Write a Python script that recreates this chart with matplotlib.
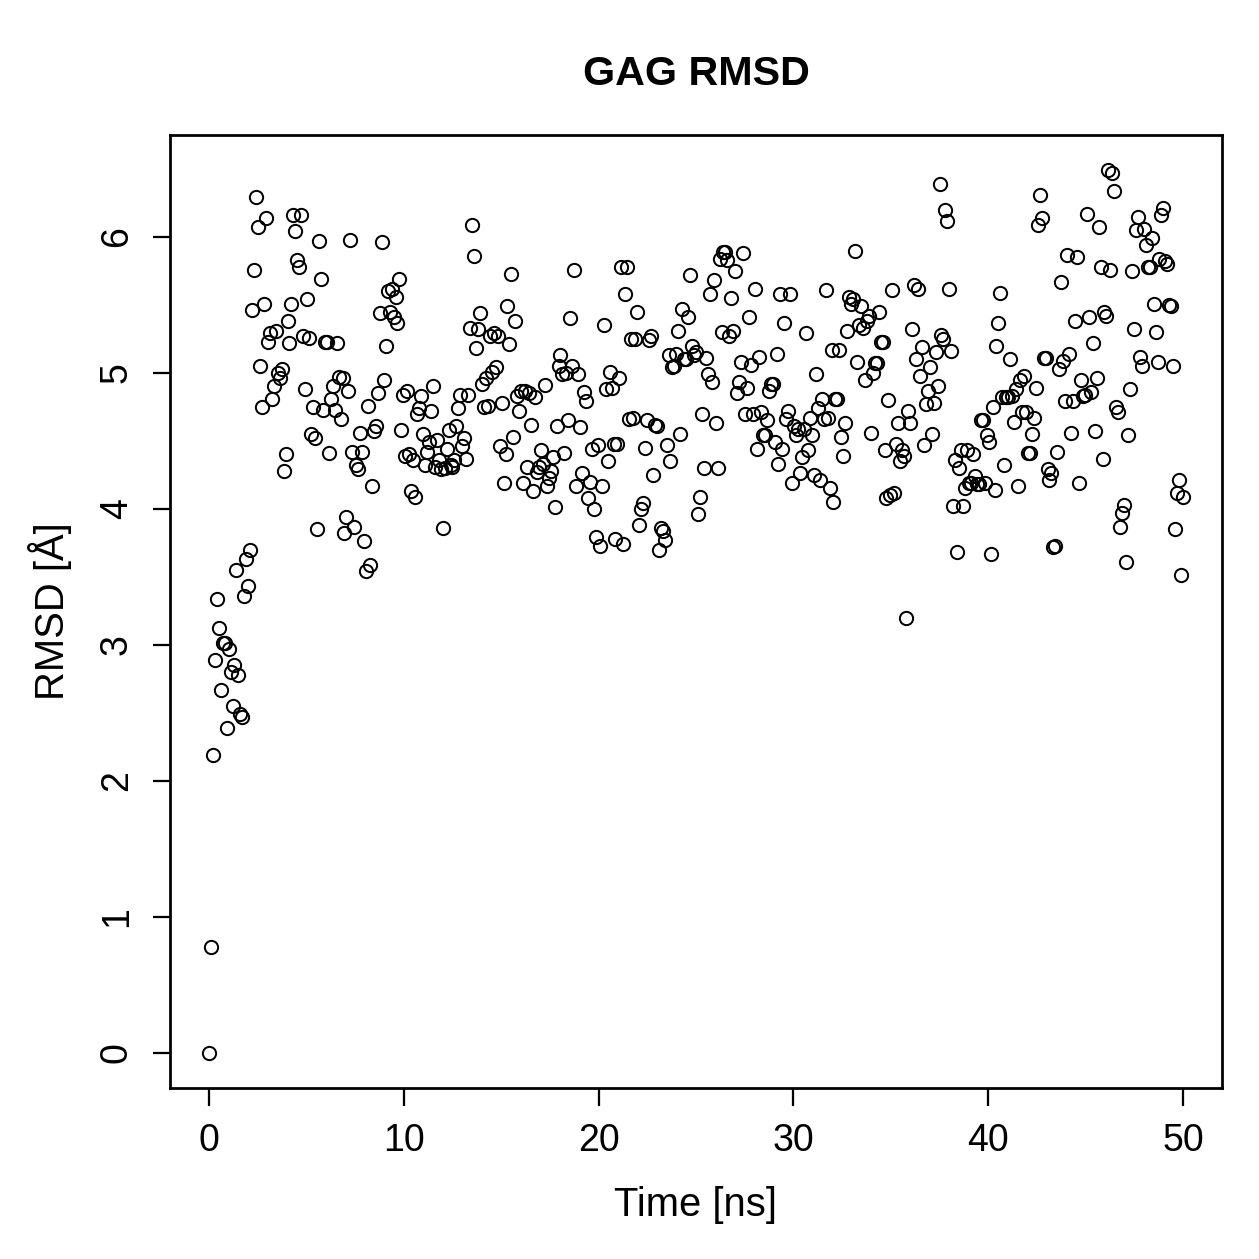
import numpy as np
import matplotlib
matplotlib.use("Agg")
import matplotlib.pyplot as plt

plt.rcParams["font.family"] = ["Liberation Sans", "DejaVu Sans"]

# ---------- data (RMSD in Angstrom, one frame per ~0.1 ns) ----------
rmsd_0_10 = [
    0.00, 0.78, 2.19, 2.89, 3.34, 3.12, 2.67, 3.01, 3.01, 2.39,
    2.97, 2.80, 2.55, 2.85, 3.55, 2.78, 2.49, 2.47, 3.36, 3.63,
    3.43, 3.70, 5.46, 5.76, 6.29, 6.07, 5.05, 4.75, 5.51, 6.14,
    5.23, 5.29, 4.81, 4.90, 5.31, 5.00, 4.96, 5.03, 4.28, 4.40,
    5.38, 5.22, 5.51, 6.16, 6.04, 5.83, 5.78, 6.16, 5.27, 4.88,
    5.54, 5.26, 4.55, 4.75, 4.52, 3.85, 5.97, 5.69, 4.73, 5.23,
    5.23, 4.41, 4.81, 4.90, 4.73, 5.22, 4.97, 4.66, 4.96, 3.82,
    3.94, 4.87, 5.98, 4.42, 3.87, 4.32, 4.29, 4.56, 4.42, 3.76,
    3.54, 4.76, 3.59, 4.17, 4.57, 4.61, 4.85, 5.44, 5.96, 4.95,
    5.20, 5.60, 5.45, 5.62, 5.41, 5.56, 5.37, 5.69, 4.58, 4.84,
]
rmsd_10_20 = [
    4.39, 4.87, 4.40, 4.13, 4.36, 4.09, 4.70, 4.74, 4.83, 4.55,
    4.32, 4.42, 4.49, 4.72, 4.90, 4.31, 4.51, 4.36, 4.29, 3.86,
    4.30, 4.44, 4.58, 4.32, 4.31, 4.36, 4.61, 4.74, 4.84, 4.46,
    4.52, 4.37, 4.84, 5.33, 6.09, 5.86, 5.18, 5.32, 5.44, 4.92,
    4.75, 4.96, 4.76, 5.27, 5.01, 5.29, 5.04, 5.27, 4.46, 4.78,
    4.19, 4.40, 5.49, 5.21, 5.73, 4.53, 5.38, 4.83, 4.72, 4.87,
    4.19, 4.87, 4.31, 4.85, 4.62, 4.13, 4.82, 4.27, 4.31, 4.43,
    4.33, 4.91, 4.17, 4.23, 4.28, 4.38, 4.01, 4.61, 5.05, 5.13,
    4.99, 4.41, 5.00, 4.65, 5.40, 5.05, 5.76, 4.17, 4.99, 4.60,
    4.26, 4.86, 4.79, 4.08, 4.20, 4.44, 4.00, 3.79, 4.47, 3.73,
]
rmsd_20_30 = [
    4.17, 5.35, 4.88, 4.35, 5.01, 4.89, 4.48, 3.78, 4.48, 4.96,
    5.78, 3.74, 5.58, 5.78, 4.66, 5.25, 4.67, 5.25, 5.45, 3.88,
    4.00, 4.04, 4.45, 4.65, 5.24, 5.27, 4.25, 4.62, 4.61, 3.70,
    3.86, 3.84, 3.77, 4.47, 5.13, 4.35, 5.04, 5.05, 5.14, 5.31,
    4.55, 5.47, 5.10, 5.10, 5.41, 5.72, 5.20, 5.13, 5.15, 3.96,
    4.09, 4.70, 4.30, 5.11, 4.99, 5.58, 4.93, 5.68, 4.63, 4.30,
    5.84, 5.30, 5.89, 5.89, 5.83, 5.27, 5.55, 5.31, 5.75, 4.85,
    4.93, 5.08, 5.88, 4.70, 4.89, 5.41, 5.06, 4.70, 5.62, 4.44,
    5.12, 4.71, 4.54, 4.54, 4.65, 4.87, 4.92, 4.92, 4.49, 5.14,
    4.33, 5.58, 4.44, 5.37, 4.66, 4.72, 5.58, 4.19, 4.61, 4.54,
]
rmsd_30_40 = [
    4.59, 4.26, 4.38, 4.59, 5.29, 4.43, 4.67, 4.54, 4.25, 4.99,
    4.74, 4.21, 4.81, 4.66, 5.61, 4.67, 4.15, 5.17, 4.05, 4.81,
    4.81, 5.17, 4.53, 4.39, 4.63, 5.31, 5.56, 5.51, 5.54, 5.90,
    5.08, 5.35, 5.49, 5.33, 4.95, 5.38, 5.42, 4.56, 5.00, 5.07,
    5.07, 5.45, 5.23, 5.23, 4.43, 4.08, 4.80, 4.10, 5.61, 4.12,
    4.48, 4.63, 4.35, 4.43, 4.39, 3.20, 4.72, 4.63, 5.32, 5.65,
    5.10, 5.62, 4.98, 5.19, 4.47, 4.77, 4.87, 5.04, 4.55, 4.78,
    5.15, 4.90, 6.39, 5.28, 5.25, 6.20, 6.12, 5.62, 5.16, 4.02,
    4.36, 3.68, 4.30, 4.43, 4.02, 4.15, 4.43, 4.19, 4.19, 4.40,
    4.24, 4.18, 4.18, 4.65, 4.65, 4.19, 4.54, 4.49, 3.67, 4.75,
]
rmsd_40_50 = [
    4.14, 5.20, 5.37, 5.59, 4.82, 4.32, 4.82, 4.82, 5.10, 4.83,
    4.64, 4.88, 4.17, 4.95, 4.71, 4.98, 4.71, 4.41, 4.41, 4.55,
    4.67, 4.89, 6.09, 6.31, 6.14, 5.11, 5.11, 4.29, 4.21, 4.26,
    3.72, 3.73, 4.42, 5.03, 5.67, 5.09, 4.79, 5.87, 5.14, 4.56,
    4.79, 5.38, 5.85, 4.19, 4.95, 4.83, 4.84, 6.17, 5.41, 4.86,
    5.22, 4.57, 4.96, 6.07, 5.78, 4.37, 5.45, 5.42, 6.49, 5.76,
    6.47, 6.34, 4.75, 4.71, 3.87, 3.97, 4.03, 3.61, 4.54, 4.88,
    5.75, 5.32, 6.05, 6.15, 5.12, 5.05, 6.06, 5.94, 5.78, 5.78,
    5.99, 5.51, 5.30, 5.08, 5.84, 6.16, 6.21, 5.82, 5.80, 5.50,
    5.49, 5.05, 3.85, 4.12, 4.21, 3.51, 4.09,
]

rmsd = np.array(rmsd_0_10 + rmsd_10_20 + rmsd_20_30 + rmsd_30_40 + rmsd_40_50)
# frames span the 0-50 ns run evenly
time_ns = np.linspace(0, 50, len(rmsd))

x_ticks = [0, 10, 20, 30, 40, 50]
y_ticks = [0, 1, 2, 3, 4, 5, 6]

# ---------- plot (R base-graphics look) ----------
fig = plt.figure(figsize=(1259 / 180, 1259 / 180), dpi=180)
ax = fig.add_axes([170 / 1259, 1 - 1088 / 1259, (1222 - 170) / 1259, (1088 - 135) / 1259])

ax.plot(time_ns, rmsd, linestyle="none", marker="o", markersize=5.3,
        markerfacecolor="none", markeredgecolor="black", markeredgewidth=0.8)

# R pads the data range by 4% on each side
def pad(lo, hi):
    d = (hi - lo) * 0.04
    return lo - d, hi + d

ax.set_xlim(*pad(time_ns.min(), time_ns.max()))
ax.set_ylim(*pad(rmsd.min(), rmsd.max()))

ax.set_xticks(x_ticks)
ax.set_yticks(y_ticks)
ax.set_yticklabels([str(v) for v in y_ticks], rotation=90, va="center")
ax.tick_params(direction="out", length=7, width=0.9, labelsize=15, pad=7)

for s in ax.spines.values():
    s.set_linewidth(1.1)

ax.set_xlabel("Time [ns]", fontsize=16, labelpad=11)
ax.set_ylabel("RMSD [Å]", fontsize=16, labelpad=11)
ax.set_title("GAG RMSD", fontsize=16.5, fontweight="bold", pad=20)

fig.savefig("out.png", dpi=180)
